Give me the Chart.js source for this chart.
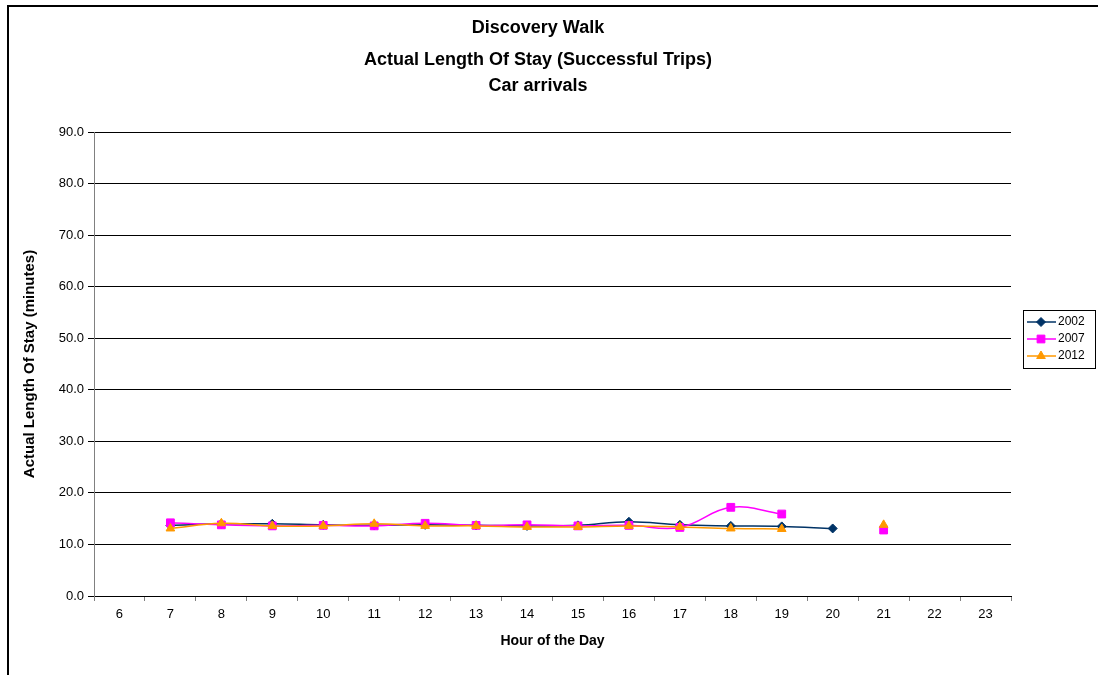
<!DOCTYPE html>
<html>
<head>
<meta charset="utf-8">
<script src="https://cdn.jsdelivr.net/npm/chart.js@4/dist/chart.umd.min.js"></script>
<style>
  html, body { margin: 0; padding: 0; background: #fff; overflow: hidden; }
  #wrap { position: relative; width: 1098px; height: 675px; }
</style>
</head>
<body>
<div id="wrap"><canvas id="los-chart" width="1098" height="675"></canvas></div>
<script>
const hours = ["6", "7", "8", "9", "10", "11", "12", "13", "14", "15", "16", "17", "18", "19", "20", "21", "22", "23"];
const stay2002 = [null, 13.7, 14.0, 14.0, 13.8, 13.7, 13.8, 13.7, 13.6, 13.7, 14.4, 13.8, 13.6, 13.5, 13.1, null, null, null];
const stay2007 = [null, 14.2, 13.8, 13.6, 13.7, 13.6, 14.1, 13.7, 13.8, 13.6, 13.7, 13.3, 17.2, 15.9, null, 12.8, null, null];
const stay2012 = [null, 13.1, 14.1, 13.6, 13.6, 14.0, 13.6, 13.6, 13.4, 13.4, 13.6, 13.4, 13.1, 13.0, null, 13.8, null, null];
const titleLines = ["Discovery Walk", "Actual Length Of Stay (Successful Trips)", "Car arrivals"];
const yTitle = "Actual Length Of Stay (minutes)";
const xTitle = "Hour of the Day";

const FONT = "'Liberation Sans', Arial, sans-serif";

// frame + title lines
const framePlugin = {
  id: "frame",
  beforeDraw(chart) {
    const ctx = chart.ctx;
    ctx.save();
    ctx.strokeStyle = "#000";
    ctx.lineWidth = 2;
    ctx.beginPath();
    ctx.moveTo(8, 680);
    ctx.lineTo(8, 6);
    ctx.lineTo(1110, 6);
    ctx.stroke();
    ctx.restore();
  },
  afterDraw(chart) {
    const ctx = chart.ctx;
    ctx.save();
    ctx.fillStyle = "#000";
    ctx.font = "bold 18px " + FONT;
    ctx.textAlign = "center";
    ctx.textBaseline = "middle";
    const ys = [28, 60, 86];
    titleLines.forEach((t, i) => ctx.fillText(t, 538, ys[i]));
    ctx.restore();
  }
};

// boxed legend on the right
const legendPlugin = {
  id: "boxLegend",
  afterDraw(chart) {
    const ctx = chart.ctx;
    const x0 = 1023, y0 = 310, w = 72, h = 58;
    ctx.save();
    ctx.strokeStyle = "#000";
    ctx.lineWidth = 1;
    ctx.strokeRect(x0 + 0.5, y0 + 0.5, w, h);
    ctx.font = "12px " + FONT;
    ctx.textBaseline = "middle";
    ctx.textAlign = "left";
    chart.data.datasets.forEach((ds, i) => {
      const y = y0 + 12 + i * 17;
      ctx.strokeStyle = ds.borderColor;
      ctx.lineWidth = 1.5;
      ctx.beginPath();
      ctx.moveTo(x0 + 4, y);
      ctx.lineTo(x0 + 33, y);
      ctx.stroke();
      ctx.fillStyle = ds.borderColor;
      ctx.lineWidth = 1;
      Chart.helpers.drawPoint(ctx, {
        pointStyle: ds.pointStyle,
        radius: ds.pointRadius,
        borderWidth: 1
      }, x0 + 18, y);
      ctx.fillStyle = "#000";
      ctx.fillText(ds.label, x0 + 35, y);
    });
    ctx.restore();
  }
};

function series(label, data, color, style, radius, order) {
  return {
    label,
    data,
    borderColor: color,
    backgroundColor: color,
    pointBackgroundColor: color,
    pointBorderColor: color,
    borderWidth: 1.5,
    pointStyle: style,
    pointRadius: radius,
    pointBorderWidth: 1,
    tension: 0.4,
    spanGaps: false,
    order
  };
}

new Chart(document.getElementById("los-chart"), {
  type: "line",
  data: {
    labels: hours,
    datasets: [
      series("2002", stay2002, "#003366", "rectRot", 4.5, 2),
      series("2007", stay2007, "#ff00ff", "rect", 5.5, 1),
      series("2012", stay2012, "#ff9900", "triangle", 5, 0)
    ]
  },
  options: {
    responsive: false,
    animation: false,
    devicePixelRatio: 1,
    layout: { padding: { left: 0, top: 132, right: 87, bottom: 0 } },
    plugins: {
      legend: { display: false },
      title: { display: false },
      tooltip: { enabled: false }
    },
    scales: {
      x: {
        type: "category",
        offset: true,
        afterFit(scale) { scale.height = 79; },
        grid: {
          offset: true,
          drawOnChartArea: false,
          drawTicks: true,
          tickLength: 5,
          color: "#808080"
        },
        border: { color: "#000", width: 1 },
        ticks: {
          color: "#000",
          font: { family: FONT, size: 13 },
          padding: 6,
          maxRotation: 0,
          autoSkip: false
        },
        title: {
          display: true,
          text: xTitle,
          color: "#000",
          font: { family: FONT, size: 14, weight: "bold" },
          padding: { top: 0, bottom: 25 }
        }
      },
      y: {
        min: 0,
        max: 90,
        afterFit(scale) { scale.width = 94; },
        grid: {
          color: "#000",
          lineWidth: 1,
          tickLength: 6,
          drawTicks: true
        },
        border: { color: "#808080", width: 1 },
        ticks: {
          stepSize: 10,
          color: "#000",
          font: { family: FONT, size: 13 },
          padding: 4,
          callback: (v) => Number(v).toFixed(1)
        },
        title: {
          display: true,
          text: yTitle,
          color: "#000",
          font: { family: FONT, size: 15, weight: "bold" },
          padding: { top: 21, bottom: 0 }
        }
      }
    }
  },
  plugins: [framePlugin, legendPlugin]
});
</script>
</body>
</html>
